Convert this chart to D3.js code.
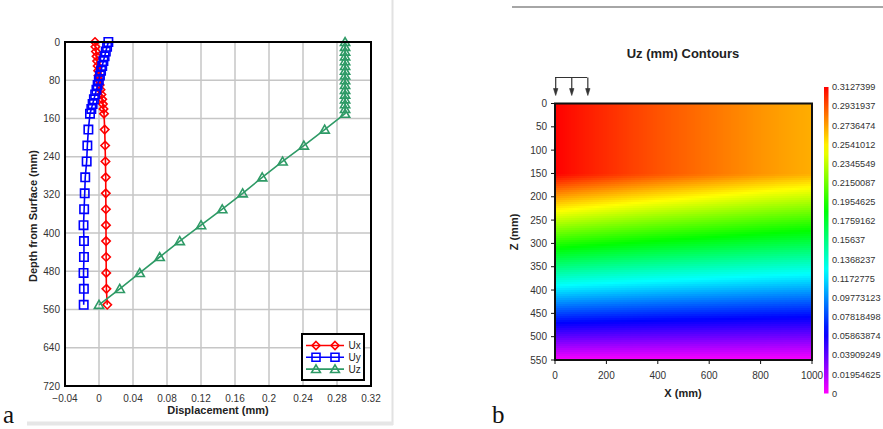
<!DOCTYPE html>
<html>
<head>
<meta charset="utf-8">
<script src="https://cdn.jsdelivr.net/npm/d3@7"></script>
<style>
  body { margin: 0; background: #fff; }
  svg { display: block; font-family: Arial, "Liberation Sans", sans-serif; }
</style>
</head>
<body>
<svg id="chart" width="883" height="429"></svg>
<script>
// ---------- Panel a: displacement profiles with depth ----------
const depths = [0, 10, 20, 30, 40, 50, 60, 70, 80, 90, 100, 110, 120, 130, 140, 150,
  183.3, 216.7, 250, 283.3, 316.7, 350, 383.3, 416.7, 450, 483.3, 516.7, 550];
const ux = [-0.0047, -0.0042, -0.0036, -0.0029, -0.0022, -0.0016, -0.0010, -0.0005, 0.0000, 0.0008,
  0.0018, 0.0028, 0.0038, 0.0046, 0.0053, 0.0059,
  0.0067, 0.0072, 0.0076, 0.0079, 0.0080, 0.0081, 0.0082, 0.0083, 0.0084, 0.0085, 0.0087, 0.0097];
const uy = [0.0110, 0.0095, 0.0080, 0.0066, 0.0052, 0.0038, 0.0024, 0.0011, -0.0002, -0.0016,
  -0.0030, -0.0045, -0.0060, -0.0075, -0.0090, -0.0106,
  -0.0125, -0.0137, -0.0145, -0.0162, -0.0168, -0.0175, -0.0182, -0.0177, -0.0177, -0.0182, -0.0178, -0.0180];
const uz = [0.2895, 0.2895, 0.2895, 0.2895, 0.2895, 0.2895, 0.2895, 0.2895, 0.2895, 0.2895,
  0.2895, 0.2895, 0.2895, 0.2895, 0.2895, 0.2895,
  0.2655, 0.2410, 0.2160, 0.1920, 0.1690, 0.1450, 0.1200, 0.0950, 0.0714, 0.0479, 0.0244, 0.0000];
const dispTicks = [-0.04, 0, 0.04, 0.08, 0.12, 0.16, 0.2, 0.24, 0.28, 0.32];
const depthTicks = [0, 80, 160, 240, 320, 400, 480, 560, 640, 720];
const seriesNames = ["Ux", "Uy", "Uz"];
const seriesColors = ["#ff0000", "#0000ff", "#2e9a66"];

// ---------- Panel b: Uz contour field (mm) on an X-Z grid ----------
const gridX = [0, 100, 200, 300, 400, 500, 600, 700, 800, 900, 1000];
const gridZ = [0, 50, 100, 150, 200, 250, 300, 350, 400, 450, 500, 550];
const uzField = [
  [0.3127, 0.3070, 0.3020, 0.2970, 0.2925, 0.2885, 0.2845, 0.2805, 0.2765, 0.2730, 0.2700],
  [0.3127, 0.3070, 0.3020, 0.2970, 0.2925, 0.2885, 0.2845, 0.2805, 0.2765, 0.2730, 0.2700],
  [0.3127, 0.3070, 0.3020, 0.2970, 0.2925, 0.2885, 0.2845, 0.2805, 0.2765, 0.2730, 0.2700],
  [0.3127, 0.3070, 0.3020, 0.2970, 0.2925, 0.2885, 0.2845, 0.2805, 0.2765, 0.2730, 0.2700],
  [0.2736, 0.2686, 0.2643, 0.2599, 0.2559, 0.2524, 0.2489, 0.2454, 0.2419, 0.2389, 0.2363],
  [0.2345, 0.2303, 0.2265, 0.2228, 0.2194, 0.2164, 0.2134, 0.2104, 0.2074, 0.2048, 0.2025],
  [0.1954, 0.1919, 0.1888, 0.1856, 0.1828, 0.1803, 0.1778, 0.1753, 0.1728, 0.1706, 0.1688],
  [0.1564, 0.1535, 0.1510, 0.1485, 0.1463, 0.1443, 0.1423, 0.1403, 0.1383, 0.1365, 0.1350],
  [0.1173, 0.1151, 0.1133, 0.1114, 0.1097, 0.1082, 0.1067, 0.1052, 0.1037, 0.1024, 0.1013],
  [0.0782, 0.0768, 0.0755, 0.0743, 0.0731, 0.0721, 0.0711, 0.0701, 0.0691, 0.0683, 0.0675],
  [0.0391, 0.0384, 0.0378, 0.0371, 0.0366, 0.0361, 0.0356, 0.0351, 0.0346, 0.0341, 0.0338],
  [0.0000, 0.0000, 0.0000, 0.0000, 0.0000, 0.0000, 0.0000, 0.0000, 0.0000, 0.0000, 0.0000]
];
const xTicksB = [0, 200, 400, 600, 800, 1000];
const zTicksB = [0, 50, 100, 150, 200, 250, 300, 350, 400, 450, 500, 550];
const legendLevels = ["0.3127399", "0.2931937", "0.2736474", "0.2541012", "0.2345549", "0.2150087",
  "0.1954625", "0.1759162", "0.15637", "0.1368237", "0.1172775", "0.09773123", "0.07818498",
  "0.05863874", "0.03909249", "0.01954625", "0"];
const loadX = [0, 62.5, 125];
const uzMax = 0.3127399;

const svg = d3.select("#chart");

// ---------------- panel frames ----------------
svg.append("line").attr("x1", 392.5).attr("x2", 392.5).attr("y1", 0).attr("y2", 425)
  .attr("stroke", "#e2e2e2").attr("stroke-width", 2);
svg.append("line").attr("x1", 27).attr("x2", 393).attr("y1", 423.5).attr("y2", 423.5)
  .attr("stroke", "#e6e6e6").attr("stroke-width", 4);
svg.append("line").attr("x1", 512).attr("x2", 883).attr("y1", 7).attr("y2", 7)
  .attr("stroke", "#a6a6a6").attr("stroke-width", 2);
svg.append("text").attr("x", 3).attr("y", 423).text("a")
  .attr("font-family", "'Liberation Serif', 'DejaVu Serif', serif").attr("font-size", 25).attr("fill", "#111");
svg.append("text").attr("x", 492).attr("y", 423).text("b")
  .attr("font-family", "'Liberation Serif', 'DejaVu Serif', serif").attr("font-size", 25).attr("fill", "#111");

// ---------------- Panel a ----------------
const ax = d3.scaleLinear().domain([-0.04, 0.32]).range([65, 371]);
const ay = d3.scaleLinear().domain([0, 720]).range([42, 386]);
const ga = svg.append("g");

ga.append("g").selectAll("line").data(dispTicks).join("line")
  .attr("x1", d => ax(d)).attr("x2", d => ax(d)).attr("y1", ay(0)).attr("y2", ay(720))
  .attr("stroke", "#c6c6c6").attr("stroke-width", 1.5);
ga.append("g").selectAll("line").data(depthTicks).join("line")
  .attr("x1", ax(-0.04)).attr("x2", ax(0.32)).attr("y1", d => ay(d)).attr("y2", d => ay(d))
  .attr("stroke", "#c6c6c6").attr("stroke-width", 1.5);

ga.append("g").selectAll("text").data(dispTicks).join("text")
  .attr("x", d => ax(d)).attr("y", 402).attr("text-anchor", "middle")
  .attr("font-size", 10).attr("fill", "#333")
  .text(d => d3.format("")(+d.toFixed(2)));
ga.append("g").selectAll("text").data(depthTicks).join("text")
  .attr("x", 60).attr("y", d => ay(d) + 3.5).attr("text-anchor", "end")
  .attr("font-size", 10).attr("fill", "#333").text(d => d);

ga.append("text").attr("x", 218).attr("y", 414).attr("text-anchor", "middle")
  .attr("font-size", 11).attr("font-weight", "bold").attr("fill", "#222").text("Displacement (mm)");
ga.append("text").attr("transform", "translate(37,216) rotate(-90)").attr("text-anchor", "middle")
  .attr("font-size", 11).attr("font-weight", "bold").attr("fill", "#222").text("Depth from Surface (mm)");

const markerPath = [
  s => `M0,${-s}L${s},0L0,${s}L${-s},0Z`,
  s => `M${-s},${-s}H${s}V${s}H${-s}Z`,
  s => `M0,${-s * 1.05}L${s * 1.1},${s * 0.85}H${-s * 1.1}Z`
];
const seriesVals = [ux, uy, uz];
const line = d3.line().x(d => ax(d[0])).y(d => ay(d[1]));

seriesVals.forEach((vals, i) => {
  const pts = vals.map((v, k) => [v, depths[k]]);
  const g = ga.append("g");
  g.append("path").attr("d", line(pts)).attr("fill", "none")
    .attr("stroke", seriesColors[i]).attr("stroke-width", 1.6);
  g.selectAll("path.m").data(pts).join("path").attr("class", "m")
    .attr("transform", d => `translate(${ax(d[0])},${ay(d[1])})`)
    .attr("d", markerPath[i](4.2))
    .attr("fill", "none").attr("stroke", seriesColors[i]).attr("stroke-width", 1.6);
});

ga.append("rect").attr("x", ax(-0.04)).attr("y", ay(0))
  .attr("width", ax(0.32) - ax(-0.04)).attr("height", ay(720) - ay(0))
  .attr("fill", "none").attr("stroke", "#000").attr("stroke-width", 2);

// legend
const lg = ga.append("g");
lg.append("rect").attr("x", 302).attr("y", 334).attr("width", 62).attr("height", 46)
  .attr("fill", "#fff").attr("stroke", "#000").attr("stroke-width", 2);
seriesNames.forEach((name, i) => {
  const yy = 345.5 + i * 11.8;
  lg.append("line").attr("x1", 306).attr("x2", 344).attr("y1", yy).attr("y2", yy)
    .attr("stroke", seriesColors[i]).attr("stroke-width", 1.6);
  [316, 335].forEach(mx => {
    lg.append("path").attr("transform", `translate(${mx},${yy})`).attr("d", markerPath[i](4))
      .attr("fill", "none").attr("stroke", seriesColors[i]).attr("stroke-width", 1.6);
  });
  lg.append("text").attr("x", 348.5).attr("y", yy + 3.5).attr("font-size", 10)
    .attr("fill", "#222").text(name);
});

// ---------------- Panel b ----------------
const bx = d3.scaleLinear().domain([0, 1000]).range([555, 812]);
const bz = d3.scaleLinear().domain([0, 550]).range([103.5, 360]);
const hue = d3.scaleLinear().domain([0, uzMax]).range([300, 0]).clamp(true);
const colorOf = v => d3.hsl(hue(v), 1, 0.5).formatHex();

// bilinear lookup in the Uz grid
function fieldAt(x, z) {
  const i = Math.max(0, Math.min(gridX.length - 2, d3.bisectRight(gridX, x) - 1));
  const j = Math.max(0, Math.min(gridZ.length - 2, d3.bisectRight(gridZ, z) - 1));
  const tx = (x - gridX[i]) / (gridX[i + 1] - gridX[i]);
  const tz = (z - gridZ[j]) / (gridZ[j + 1] - gridZ[j]);
  const a = uzField[j][i], b = uzField[j][i + 1], c = uzField[j + 1][i], d = uzField[j + 1][i + 1];
  return (a * (1 - tx) + b * tx) * (1 - tz) + (c * (1 - tx) + d * tx) * tz;
}

const cell = 2;
const cells = [];
const [px0, px1] = bx.range(), [pz0, pz1] = bz.range();
for (let py = pz0; py < pz1; py += cell) {
  for (let px = px0; px < px1; px += cell) {
    const w = Math.min(cell, px1 - px), h = Math.min(cell, pz1 - py);
    const v = fieldAt(bx.invert(px + w / 2), bz.invert(py + h / 2));
    cells.push({ px, py, w, h, v });
  }
}
const gb = svg.append("g");
gb.append("g").attr("shape-rendering", "crispEdges").selectAll("rect").data(cells).join("rect")
  .attr("x", d => d.px).attr("y", d => d.py).attr("width", d => d.w + 0.3).attr("height", d => d.h + 0.3)
  .attr("fill", d => colorOf(d.v));

gb.append("rect").attr("x", bx(0)).attr("y", bz(0)).attr("width", bx(1000) - bx(0))
  .attr("height", bz(550) - bz(0)).attr("fill", "none").attr("stroke", "#111").attr("stroke-width", 2);

// axes ticks and labels
gb.append("g").selectAll("line").data(zTicksB).join("line")
  .attr("x1", bx(0) - 4).attr("x2", bx(0)).attr("y1", d => bz(d)).attr("y2", d => bz(d))
  .attr("stroke", "#111").attr("stroke-width", 1);
gb.append("g").selectAll("text").data(zTicksB).join("text")
  .attr("x", 547).attr("y", d => bz(d) + 3.5).attr("text-anchor", "end")
  .attr("font-size", 10).attr("fill", "#333").text(d => d);
gb.append("g").selectAll("line").data(xTicksB).join("line")
  .attr("x1", d => bx(d)).attr("x2", d => bx(d)).attr("y1", bz(550)).attr("y2", bz(550) + 4)
  .attr("stroke", "#111").attr("stroke-width", 1);
gb.append("g").selectAll("text").data(xTicksB).join("text")
  .attr("x", d => bx(d)).attr("y", 378.5).attr("text-anchor", "middle")
  .attr("font-size", 10).attr("fill", "#333").text(d => d);

gb.append("text").attr("x", 683).attr("y", 397).attr("text-anchor", "middle")
  .attr("font-size", 11).attr("font-weight", "bold").attr("fill", "#222").text("X (mm)");
gb.append("text").attr("transform", "translate(518,232) rotate(-90)").attr("text-anchor", "middle")
  .attr("font-size", 11).attr("font-weight", "bold").attr("fill", "#222").text("Z (mm)");
gb.append("text").attr("x", 683).attr("y", 58).attr("text-anchor", "middle")
  .attr("font-size", 13).attr("font-weight", "bold").attr("fill", "#222").text("Uz (mm) Contours");

// surface load arrows
const ar = gb.append("g").attr("stroke", "#333").attr("stroke-width", 1.2).attr("fill", "#333");
ar.append("line").attr("x1", bx(loadX[0])).attr("x2", bx(loadX[loadX.length - 1]))
  .attr("y1", 77.5).attr("y2", 77.5);
loadX.forEach(v => {
  const x = bx(v) + 0.7;
  ar.append("line").attr("x1", x).attr("x2", x).attr("y1", 77.5).attr("y2", 90);
  ar.append("path").attr("d", `M${x - 2.2},88.5L${x + 2.2},88.5L${x},95.5Z`).attr("stroke-width", 0.6);
});

// colour bar
const cbTop = 87, cbBot = 393.5;
const cbScale = d3.scaleLinear().domain([uzMax, 0]).range([cbTop, cbBot]);
const defs = svg.append("defs");
const grad = defs.append("linearGradient").attr("id", "cbgrad")
  .attr("x1", 0).attr("y1", 0).attr("x2", 0).attr("y2", 1);
d3.range(0, 33).forEach(k => {
  const t = k / 32;
  grad.append("stop").attr("offset", t).attr("stop-color", colorOf(uzMax * (1 - t)));
});
gb.append("rect").attr("x", 824).attr("y", cbTop).attr("width", 4.5).attr("height", cbBot - cbTop)
  .attr("fill", "url(#cbgrad)");
gb.append("g").selectAll("text").data(legendLevels).join("text")
  .attr("x", 832).attr("y", d => cbScale(+d) + 3.2)
  .attr("font-size", 9.2).attr("fill", "#333").text(d => d);
</script>
</body>
</html>
